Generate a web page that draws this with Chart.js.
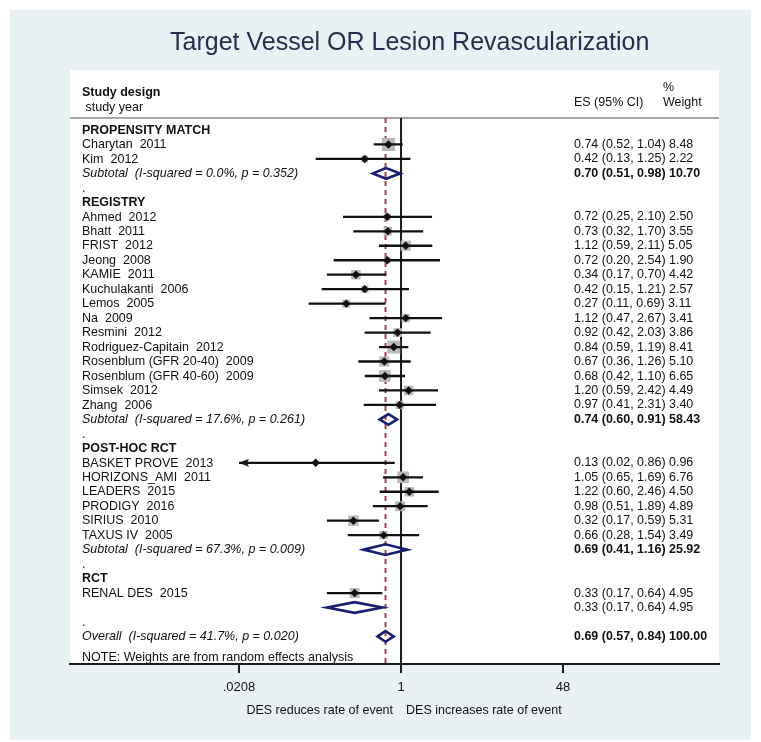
<!DOCTYPE html>
<html>
<head>
<meta charset="utf-8">
<title>Target Vessel OR Lesion Revascularization</title>
<script src="https://cdn.jsdelivr.net/npm/chart.js@4.4.1/dist/chart.umd.min.js"></script>
<style>
  html, body { margin: 0; padding: 0; background: #ffffff; }
  canvas { display: block; }
</style>
</head>
<body>
<canvas id="forest" width="761" height="742"></canvas>
<script>
// ---------- data ----------
const titleText = 'Target Vessel OR Lesion Revascularization';
const groupNames = ['PROPENSITY MATCH', 'REGISTRY', 'POST-HOC RCT', 'RCT'];
const studyNames = [
  'Charytan  2011', 'Kim  2012',
  'Ahmed  2012', 'Bhatt  2011', 'FRIST  2012', 'Jeong  2008', 'KAMIE  2011',
  'Kuchulakanti  2006', 'Lemos  2005', 'Na  2009', 'Resmini  2012',
  'Rodriguez-Capitain  2012', 'Rosenblum (GFR 20-40)  2009',
  'Rosenblum (GFR 40-60)  2009', 'Simsek  2012', 'Zhang  2006',
  'BASKET PROVE  2013', 'HORIZONS_AMI  2011', 'LEADERS  2015', 'PRODIGY  2016',
  'SIRIUS  2010', 'TAXUS IV  2005',
  'RENAL DES  2015'
];
const studyGroup  = [0, 0, 1, 1, 1, 1, 1, 1, 1, 1, 1, 1, 1, 1, 1, 1, 2, 2, 2, 2, 2, 2, 3];
const studyES     = [0.74, 0.42, 0.72, 0.73, 1.12, 0.72, 0.34, 0.42, 0.27, 1.12, 0.92, 0.84, 0.67, 0.68, 1.20, 0.97, 0.13, 1.05, 1.22, 0.98, 0.32, 0.66, 0.33];
const studyLow    = [0.52, 0.13, 0.25, 0.32, 0.59, 0.20, 0.17, 0.15, 0.11, 0.47, 0.42, 0.59, 0.36, 0.42, 0.59, 0.41, 0.02, 0.65, 0.60, 0.51, 0.17, 0.28, 0.17];
const studyHigh   = [1.04, 1.25, 2.10, 1.70, 2.11, 2.54, 0.70, 1.21, 0.69, 2.67, 2.03, 1.19, 1.26, 1.10, 2.42, 2.31, 0.86, 1.69, 2.46, 1.89, 0.59, 1.54, 0.64];
const studyWeight = [8.48, 2.22, 2.50, 3.55, 5.05, 1.90, 4.42, 2.57, 3.11, 3.41, 3.86, 8.41, 5.10, 6.65, 4.49, 3.40, 0.96, 6.76, 4.50, 4.89, 5.31, 3.49, 4.95];

const subtotalLabels = [
  'Subtotal  (I-squared = 0.0%, p = 0.352)',
  'Subtotal  (I-squared = 17.6%, p = 0.261)',
  'Subtotal  (I-squared = 67.3%, p = 0.009)',
  ''
];
const subtotalES     = [0.70, 0.74, 0.69, 0.33];
const subtotalLow    = [0.51, 0.60, 0.41, 0.17];
const subtotalHigh   = [0.98, 0.91, 1.16, 0.64];
const subtotalWeight = [10.70, 58.43, 25.92, 4.95];

const overallLabel  = 'Overall  (I-squared = 41.7%, p = 0.020)';
const overallES     = 0.69;
const overallLow    = 0.57;
const overallHigh   = 0.84;
const overallWeight = 100.00;
const noteText = 'NOTE: Weights are from random effects analysis';

const headerLeft  = ['Study design', ' study year'];
const headerRight = ['ES (95% CI)', '%', 'Weight'];
const tickValues  = [0.0208, 1, 48];
const tickLabels  = ['.0208', '1', '48'];
const favourLabels = ['DES reduces rate of event', 'DES increases rate of event'];

// ---------- layout ----------
const W = 761, H = 742;
const FONT = '"Liberation Sans", Arial, Helvetica, sans-serif';
const box = { left: 70, top: 70, right: 719, bottom: 664 };   // white plot region
const headerLineY = 118;
const firstRowY = 130, rowStep = 14.47;
const tickPxLow = 239, tickPxHigh = 563;                       // where the outer ticks sit
const labelX = 82, esX = 574;
const labelSize = 13.5, labelSqueeze = 0.926;                  // slightly narrow lettering
const valueSize = 12.8, valueSqueeze = 0.975;

// log-axis limits so the outer ticks land on tickPxLow / tickPxHigh
const lnSpan = Math.log(tickValues[2] / tickValues[0]);
const pxSpan = tickPxHigh - tickPxLow;
const xMin = tickValues[0] * Math.exp(-lnSpan * (tickPxLow - box.left) / pxSpan);
const xMax = tickValues[2] * Math.exp(lnSpan * (box.right - tickPxHigh) / pxSpan);
const yMin = -(firstRowY - headerLineY) / rowStep;
const yMax = (box.bottom - firstRowY) / rowStep;
const axisLow = tickValues[0];

// ---------- rows ----------
const rows = [];
let r = 0;
groupNames.forEach((g, gi) => {
  rows.push({ row: r++, kind: 'heading', label: g });
  studyNames.forEach((name, i) => {
    if (studyGroup[i] !== gi) return;
    rows.push({ row: r++, kind: 'study', label: name, es: studyES[i], lo: studyLow[i], hi: studyHigh[i], w: studyWeight[i] });
  });
  rows.push({ row: r++, kind: 'pooled', label: subtotalLabels[gi], es: subtotalES[gi], lo: subtotalLow[gi], hi: subtotalHigh[gi], w: subtotalWeight[gi], bold: subtotalLabels[gi] !== '' });
  rows.push({ row: r++, kind: 'spacer', label: '.' });
});
rows.push({ row: r++, kind: 'pooled', label: overallLabel, es: overallES, lo: overallLow, hi: overallHigh, w: overallWeight, bold: true });
const noteRow = r + 0.42;

const studies = rows.filter(d => d.kind === 'study');
const pooled = rows.filter(d => d.kind === 'pooled');

// ---------- datasets ----------
const boxData = studies.map(d => ({ x: d.es, y: d.row, w: d.w }));
const markerData = studies.map(d => ({ x: d.es, y: d.row }));
const ciData = [];
studies.forEach(d => {
  ciData.push({ x: Math.max(d.lo, axisLow), y: d.row });
  ciData.push({ x: d.hi, y: d.row });
  ciData.push({ x: null, y: null });
});
const arrowData = studies.filter(d => d.lo < axisLow).map(d => ({ x: axisLow, y: d.row }));
const diamondHalf = 0.37;
const diamondData = [];
pooled.forEach(d => {
  diamondData.push({ x: d.lo, y: d.row });
  diamondData.push({ x: d.es, y: d.row - diamondHalf });
  diamondData.push({ x: d.hi, y: d.row });
  diamondData.push({ x: d.es, y: d.row + diamondHalf });
  diamondData.push({ x: d.lo, y: d.row });
  diamondData.push({ x: d.es, y: d.row - diamondHalf });
  diamondData.push({ x: null, y: null });
});
const nullLine = [{ x: 1, y: yMin }, { x: 1, y: yMax }];
const overallLine = [{ x: overallES, y: yMin }, { x: overallES, y: yMax }];

// left-pointing arrowhead whose tip sits at the image centre
const arrowImg = document.createElement('canvas');
arrowImg.width = 22; arrowImg.height = 10;
(function () {
  const c = arrowImg.getContext('2d');
  c.fillStyle = '#111111';
  c.beginPath();
  c.moveTo(11, 5);
  c.lineTo(21, 1);
  c.lineTo(19, 5);
  c.lineTo(21, 9);
  c.closePath();
  c.fill();
})();

// text drawn with a small horizontal squeeze
function squeezed(ctx, text, x, y, font, size, sx, align) {
  ctx.save();
  ctx.font = font + ' ' + size + 'px ' + FONT;
  ctx.textAlign = align || 'left';
  ctx.textBaseline = 'middle';
  ctx.translate(x, y);
  ctx.scale(sx, 1);
  ctx.fillText(text, 0, 0);
  const w = ctx.measureText(text).width * sx;
  ctx.restore();
  return w;
}

// ---------- drawing helpers ----------
const decor = {
  id: 'forestDecor',
  beforeDraw(chart) {
    const ctx = chart.ctx;
    ctx.save();
    ctx.fillStyle = '#ffffff';
    ctx.fillRect(0, 0, W, H);
    ctx.fillStyle = '#e9f1f4';
    ctx.fillRect(10, 10, 741, 730);
    ctx.fillStyle = '#ffffff';
    ctx.fillRect(box.left, box.top, box.right - box.left, box.bottom - box.top);

    // title
    ctx.fillStyle = '#22304f';
    ctx.font = '25px ' + FONT;
    ctx.textBaseline = 'alphabetic';
    ctx.textAlign = 'left';
    ctx.fillText(titleText, 170, 50);

    // column headers
    ctx.fillStyle = '#111111';
    squeezed(ctx, headerLeft[0], labelX, 92, 'bold', labelSize, labelSqueeze);
    squeezed(ctx, headerLeft[1], labelX, 107, 'normal', labelSize, labelSqueeze);
    squeezed(ctx, headerRight[0], esX, 102, 'normal', valueSize, valueSqueeze);
    squeezed(ctx, headerRight[1], 663, 87, 'normal', valueSize, valueSqueeze);
    squeezed(ctx, headerRight[2], 663, 102, 'normal', valueSize, valueSqueeze);

    ctx.strokeStyle = '#a8a8a8';
    ctx.lineWidth = 2;
    ctx.beginPath();
    ctx.moveTo(box.left, headerLineY);
    ctx.lineTo(box.right, headerLineY);
    ctx.stroke();
    ctx.restore();
  },
  afterDraw(chart) {
    const ctx = chart.ctx;
    const xs = chart.scales.x, ys = chart.scales.y;
    ctx.save();
    ctx.fillStyle = '#111111';
    rows.forEach(d => {
      const y = ys.getPixelForValue(d.row);
      const style = d.kind === 'heading' ? 'bold' : d.kind === 'pooled' ? 'italic' : 'normal';
      if (d.label) squeezed(ctx, d.label, labelX, y, style, labelSize, labelSqueeze);
      if (d.es !== undefined) {
        const weight = d.bold ? 'bold' : 'normal';
        const esText = d.es.toFixed(2) + ' (' + d.lo.toFixed(2) + ', ' + d.hi.toFixed(2) + ') ';
        const w = squeezed(ctx, esText, esX, y, weight, valueSize, valueSqueeze);
        squeezed(ctx, d.w.toFixed(2), esX + w, y, weight, valueSize, valueSqueeze);
      }
    });
    squeezed(ctx, noteText, labelX, ys.getPixelForValue(noteRow), 'normal', labelSize, labelSqueeze);

    // direction labels either side of the null line
    const x1 = xs.getPixelForValue(1);
    squeezed(ctx, favourLabels[0], x1 - 8, 710, 'normal', labelSize, labelSqueeze, 'right');
    squeezed(ctx, favourLabels[1], x1 + 5, 710, 'normal', labelSize, labelSqueeze, 'left');
    ctx.restore();
  }
};

new Chart(document.getElementById('forest'), {
  type: 'scatter',
  data: {
    datasets: [
      { data: nullLine, showLine: true, borderColor: '#1a1a1a', borderWidth: 2, pointRadius: 0, order: 10 },
      { data: overallLine, showLine: true, borderColor: '#a3404e', borderWidth: 2, borderDash: [5, 4], pointRadius: 0, order: 9 },
      {
        data: boxData, pointStyle: 'rect', backgroundColor: '#b9b9b9', borderWidth: 0,
        pointRadius: c => (c.raw ? 4.5 * Math.sqrt(c.raw.w) / Math.SQRT2 : 0), order: 8
      },
      { data: ciData, showLine: true, borderColor: '#111111', borderWidth: 2.3, pointRadius: 0, spanGaps: false, order: 7 },
      { data: arrowData, pointStyle: arrowImg, pointRadius: 5, order: 6 },
      { data: markerData, pointStyle: 'rectRot', pointRadius: 4.2, backgroundColor: '#111111', borderWidth: 0, order: 5 },
      {
        data: diamondData, showLine: true, borderColor: '#1b1f72', borderWidth: 2.6, borderJoinStyle: 'miter',
        pointRadius: 0, spanGaps: false, order: 4
      }
    ]
  },
  options: {
    responsive: false,
    animation: false,
    events: [],
    devicePixelRatio: 1,
    layout: { padding: { left: box.left, right: W - box.right, top: headerLineY, bottom: 0 } },
    plugins: { legend: { display: false }, tooltip: { enabled: false }, title: { display: false } },
    scales: {
      x: {
        type: 'logarithmic',
        position: 'bottom',
        min: xMin,
        max: xMax,
        border: { display: true, color: '#1a1a1a', width: 2 },
        grid: { display: true, drawOnChartArea: false, drawTicks: true, tickLength: 9, color: '#1a1a1a', lineWidth: 2 },
        ticks: {
          autoSkip: false, maxRotation: 0, minRotation: 0, padding: 7,
          color: '#111111', font: { family: FONT, size: 13 },
          callback: (v, i) => tickLabels[i]
        },
        afterBuildTicks: s => { s.ticks = tickValues.map(v => ({ value: v })); },
        afterFit: s => { s.height = H - box.bottom; }
      },
      y: { type: 'linear', reverse: true, min: yMin, max: yMax, display: false }
    }
  },
  plugins: [decor]
});
</script>
</body>
</html>
